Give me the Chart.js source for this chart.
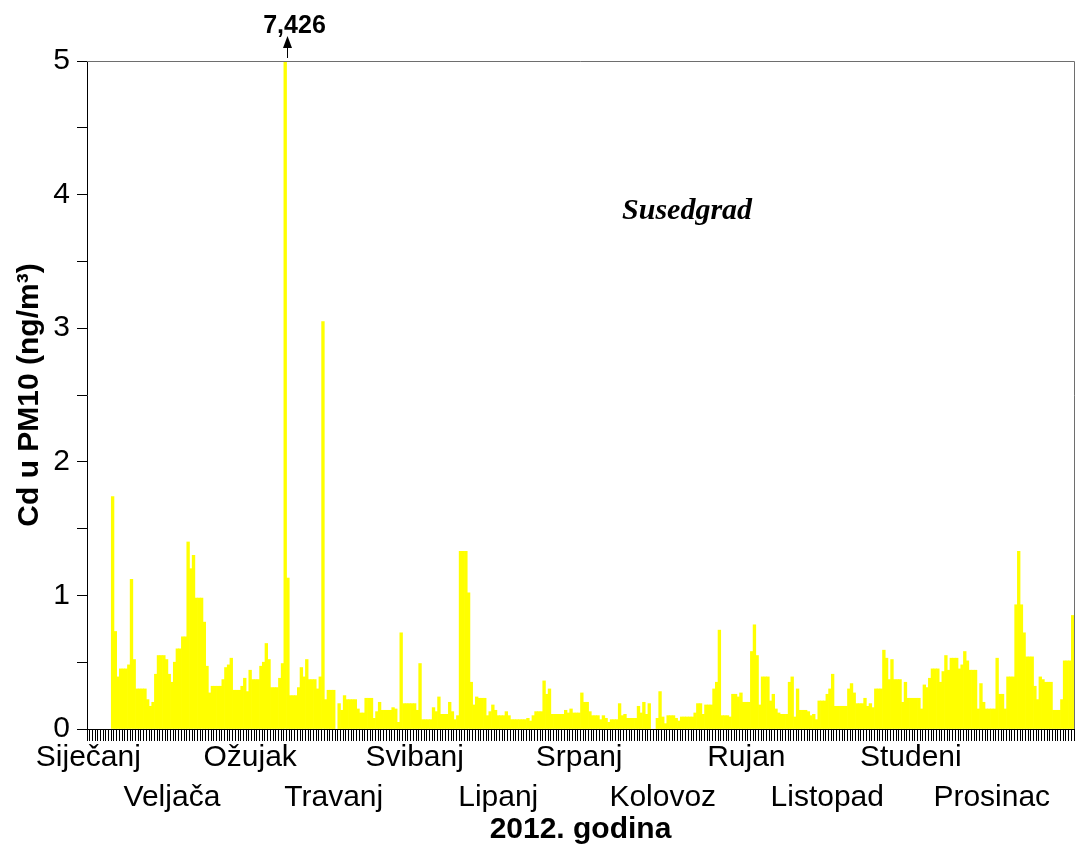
<!DOCTYPE html>
<html>
<head>
<meta charset="utf-8">
<title>Cd u PM10 - Susedgrad 2012</title>
<script src="https://cdn.jsdelivr.net/npm/chart.js@4.4.1/dist/chart.umd.min.js"></script>
<style>
  html, body { margin: 0; padding: 0; background: #fff; }
  #wrap { width: 1086px; height: 848px; }
</style>
</head>
<body>
<div id="wrap"><canvas id="chart-cd" width="1086" height="848"></canvas></div>
<script>
// month names (hr) and lengths for 2012 (leap year)
const months = ['Siječanj', 'Veljača', 'Ožujak', 'Travanj', 'Svibanj', 'Lipanj',
  'Srpanj', 'Kolovoz', 'Rujan', 'Listopad', 'Studeni', 'Prosinac'];
const monthDays = [31, 29, 31, 30, 31, 30, 31, 31, 30, 31, 30, 31];

// daily Cd in PM10 (ng/m3); null = no sample
const cdJan = [null, null, null, null, null, null, null, null, null, 1.74, 0.73, 0.39, 0.45, 0.45, 0.45, 0.48,
  1.12, 0.52, 0.30, 0.30, 0.30, 0.30, 0.22, 0.17, 0.20, 0.41, 0.55, 0.55, 0.55, 0.52, 0.41];
const cdFeb = [0.35, 0.50, 0.60, 0.60, 0.69, 0.69, 1.40, 1.20, 1.30, 0.98, 0.98, 0.98, 0.80, 0.47, 0.27,
  0.32, 0.32, 0.32, 0.32, 0.37, 0.46, 0.48, 0.53, 0.29, 0.29, 0.29, 0.32, 0.38, 0.28];
const cdMar = [0.44, 0.37, 0.37, 0.37, 0.47, 0.50, 0.64, 0.52, 0.31, 0.31, 0.31, 0.38, 0.49, 7.426, 1.13,
  0.25, 0.25, 0.25, 0.31, 0.46, 0.39, 0.52, 0.37, 0.37, 0.37, 0.30, 0.39, 3.05, 0.22, 0.29, 0.29];
const cdApr = [0.29, null, 0.19, 0.14, 0.25, 0.22, 0.22, 0.22, 0.22, 0.15, 0.12, 0.12, 0.23, 0.23, 0.23,
  0.08, 0.13, 0.20, 0.14, 0.14, 0.14, 0.14, 0.16, 0.15, 0.05, 0.72, 0.19, 0.19, 0.19, 0.19];
const cdMay = [0.19, 0.14, 0.49, 0.07, 0.07, 0.07, 0.07, 0.16, 0.13, 0.24, 0.11, 0.11, 0.11, 0.20, 0.13,
  0.07, 0.10, 1.33, 1.33, 1.33, 1.02, 0.35, 0.18, 0.24, 0.23, 0.23, 0.23, 0.10, 0.13, 0.18, 0.14];
const cdJun = [0.10, 0.10, 0.10, 0.13, 0.10, 0.07, 0.07, 0.07, 0.07, 0.07, 0.07, 0.08, 0.06, 0.10, 0.13,
  0.13, 0.13, 0.36, 0.26, 0.30, 0.11, 0.11, 0.11, 0.11, 0.11, 0.14, 0.12, 0.15, 0.12, 0.12];
const cdJul = [0.12, 0.27, 0.20, 0.20, 0.13, 0.10, 0.10, 0.10, 0.07, 0.10, 0.08, 0.05, 0.07, 0.07, 0.07,
  0.19, 0.10, 0.11, 0.08, 0.08, 0.08, 0.08, 0.17, 0.12, 0.20, 0.11, 0.19, null, null, 0.08, 0.28];
const cdAug = [0.09, 0.04, 0.10, 0.10, 0.10, 0.08, 0.06, 0.09, 0.09, 0.09, 0.09, 0.09, 0.12, 0.19, 0.19,
  0.11, 0.18, 0.18, 0.18, 0.30, 0.35, 0.74, 0.10, 0.10, 0.10, 0.09, 0.26, 0.26, 0.24, 0.27, 0.20];
const cdSep = [0.20, 0.20, 0.58, 0.78, 0.55, 0.18, 0.39, 0.39, 0.39, 0.21, 0.26, 0.15, 0.12, 0.11, 0.11,
  0.11, 0.35, 0.39, 0.09, 0.30, 0.14, 0.14, 0.14, 0.13, 0.10, 0.11, 0.07, 0.21, 0.21, 0.21];
const cdOct = [0.26, 0.30, 0.41, 0.17, 0.17, 0.17, 0.17, 0.17, 0.30, 0.34, 0.27, 0.19, 0.19, 0.19, 0.23,
  0.17, 0.19, 0.16, 0.30, 0.30, 0.30, 0.59, 0.53, 0.37, 0.52, 0.37, 0.37, 0.37, 0.20, 0.35, 0.23];
const cdNov = [0.23, 0.23, 0.23, 0.23, 0.15, 0.33, 0.31, 0.38, 0.45, 0.45, 0.45, 0.35, 0.43, 0.55, 0.44,
  0.53, 0.53, 0.53, 0.45, 0.48, 0.58, 0.51, 0.44, 0.44, 0.44, 0.15, 0.34, 0.20, 0.15, 0.15];
const cdDec = [0.15, 0.15, 0.53, 0.26, 0.26, 0.15, 0.39, 0.39, 0.39, 0.93, 1.33, 0.93, 0.72, 0.54, 0.54,
  0.54, 0.32, 0.22, 0.39, 0.37, 0.35, 0.35, 0.35, 0.14, 0.14, 0.14, 0.22, 0.51, 0.51, 0.51, 0.85];

const yMax = 5;          // axis is cut at 5, the peak is written above it
const peakValue = 7.426;

const cdValues = [].concat(cdJan, cdFeb, cdMar, cdApr, cdMay, cdJun,
  cdJul, cdAug, cdSep, cdOct, cdNov, cdDec);

// one category per day, remember where each month starts
const dayLabels = [];
const monthStart = {};
monthDays.forEach((n, m) => {
  monthStart[dayLabels.length] = m;
  for (let d = 1; d <= n; d++) dayLabels.push(d + '.' + (m + 1) + '.2012.');
});

const SANS = "Arial, 'Liberation Sans', sans-serif";
const peakIndex = cdValues.indexOf(peakValue);

const notesPlugin = {
  id: 'notes',
  afterDraw: (chart) => {
    const { ctx, chartArea: { left, right, top, bottom }, scales: { x } } = chart;
    ctx.save();

    // grey frame on top and right
    ctx.strokeStyle = '#6e6e6e';
    ctx.lineWidth = 1;
    ctx.beginPath();
    ctx.moveTo(left, top + 0.5);
    ctx.lineTo(right + 0.5, top + 0.5);
    ctx.lineTo(right + 0.5, bottom);
    ctx.stroke();

    // station name
    ctx.fillStyle = '#000';
    ctx.font = "italic bold 30px 'Times New Roman', 'Liberation Serif', serif";
    ctx.textAlign = 'center';
    ctx.textBaseline = 'middle';
    ctx.fillText('Susedgrad', left + (right - left) * 0.608, top + (bottom - top) * 0.225);

    // off-scale peak: arrow + value
    const px = Math.round(x.getPixelForValue(peakIndex)) + 2.5;
    ctx.strokeStyle = '#000';
    ctx.beginPath();
    ctx.moveTo(px, top - 3);
    ctx.lineTo(px, top - 15);
    ctx.stroke();
    ctx.beginPath();
    ctx.moveTo(px, top - 25);
    ctx.lineTo(px - 4.5, top - 13);
    ctx.lineTo(px + 4.5, top - 13);
    ctx.closePath();
    ctx.fill();

    ctx.font = 'bold 25px ' + SANS;
    ctx.textBaseline = 'alphabetic';
    ctx.fillText(String(peakValue).replace('.', ','), px + 7, top - 28);
    ctx.restore();
  }
};

new Chart(document.getElementById('chart-cd').getContext('2d'), {
  type: 'bar',
  data: {
    labels: dayLabels,
    datasets: [{
      data: cdValues,
      backgroundColor: '#ffff00',
      borderWidth: 0,
      barPercentage: 1,
      categoryPercentage: 1
    }]
  },
  options: {
    responsive: false,
    animation: false,
    layout: { padding: { top: 61, right: 12, left: 0, bottom: 0 } },
    plugins: {
      legend: { display: false },
      tooltip: { enabled: false }
    },
    scales: {
      x: {
        grid: { drawOnChartArea: false, tickLength: 12, color: '#000', lineWidth: 1 },
        border: { color: '#000' },
        ticks: {
          autoSkip: false,
          maxRotation: 0,
          minRotation: 0,
          padding: -3,
          color: '#000',
          font: { family: SANS, size: 30, lineHeight: 1.33 },
          callback: (v, i) => {
            const m = monthStart[i];
            if (m === undefined) return '';
            return m % 2 === 0 ? months[m] : ['', months[m]];
          }
        },
        title: {
          display: true,
          text: '2012. godina',
          color: '#000',
          font: { family: SANS, size: 30, weight: 'bold' },
          padding: 0
        },
        afterFit: (s) => { s.height = 119; }
      },
      y: {
        min: 0,
        max: yMax,
        grid: { drawOnChartArea: false, tickLength: 10, color: '#000' },
        border: { color: '#000' },
        ticks: {
          stepSize: 0.5,
          padding: 7,
          color: '#000',
          font: { family: SANS, size: 30 },
          callback: (v) => Number.isInteger(v) ? v : ''
        },
        title: {
          display: true,
          text: 'Cd u PM10 (ng/m³)',
          color: '#000',
          font: { family: SANS, size: 30, weight: 'bold' },
          padding: { top: 12, bottom: 0 }
        },
        afterFit: (s) => { s.width = 87; }
      }
    }
  },
  plugins: [notesPlugin]
});
</script>
</body>
</html>
